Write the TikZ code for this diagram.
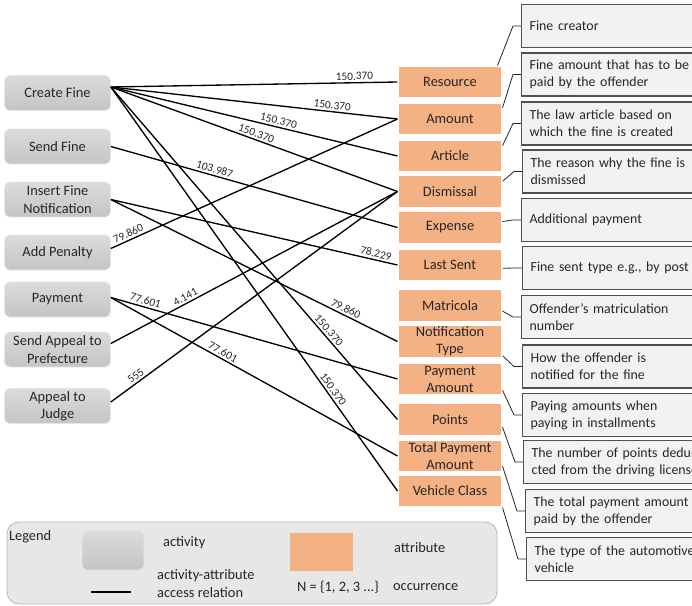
\documentclass[tikz,border=0pt]{standalone}
\usepackage{fontspec}
\setmainfont{Carlito}
\usetikzlibrary{calc}
\definecolor{atributo}{RGB}{244,177,131}
\definecolor{fondodesc}{RGB}{242,242,242}
\definecolor{bordedesc}{RGB}{80,80,80}
\definecolor{fondoley}{RGB}{231,231,231}
\definecolor{texto}{RGB}{38,38,38}

\begin{document}
\begin{tikzpicture}[x=0.75pt,y=-0.75pt,line width=1pt,
  font=\fontsize{10.8}{13}\selectfont,text=texto,
  actividad/.style={draw=gray!20,line width=0.5pt,rounded corners=4pt,top color=gray!28,bottom color=gray!46,
    minimum width=79.5pt,minimum height=26.25pt,align=center,inner sep=1pt},
  atrib/.style={fill=atributo,draw=white,line width=0.8pt,minimum width=78pt,minimum height=24pt,
    align=center,inner sep=1pt,font=\fontsize{10.8}{12.8}\selectfont},
  desc/.style={fill=fondodesc,draw=bordedesc,line width=1pt,anchor=west,minimum height=32.25pt,
    text width=116pt,inner xsep=6pt,align=left,font=\fontsize{10.4}{12.8}\selectfont},
  ocurr/.style={font=\fontsize{8.5}{9}\selectfont,sloped,above,inner sep=1.5pt,pos=#1},
  llamada/.style={line width=0.6pt,draw=black!85}]
  \useasboundingbox (0,0) rectangle (692,606);
  % actividades
  \foreach \n/\y/\t in {cf/93/Create Fine,sf/146.5/Send Fine,ifn/199.5/{Insert Fine\\Notification},
    ap/252.5/Add Penalty,pay/299.5/Payment,sap/349.5/{Send Appeal to\\Prefecture},aj/406/{Appeal to\\Judge}}
    \node[actividad] (\n) at (57.5,\y) {\t};
  % atributos
  \foreach \n/\y/\t in {res/82/Resource,amt/119/Amount,art/156/Article,dism/191.5/Dismissal,
    expn/227.5/Expense,last/265/Last Sent,matr/305.5/Matricola,ntyp/341.5/{Notification\\Type},
    pamt/379/{Payment\\Amount},pts/419.5/Points,tpamt/456/{Total Payment\\Amount},vcls/491/Vehicle Class}
    \node[atrib] (\n) at (450,\y) {\t};
  % descripciones
  \foreach \n/\x/\y/\t in {d1/521/26/Fine creator,
    d2/521/74.5/{\mbox{Fine amount that has to be}\\paid by the offender},
    d3/521/123.5/{The law article based on\\which the fine is created},
    d4/522/171.5/{\mbox{The reason why the fine is}\\dismissed},
    d5/521/220/Additional payment,
    d6/522/268/{\mbox{Fine sent type e.g., by post}},
    d7/521/317/{Offender's matriculation\\number},
    d8/522/366.5/{How the offender is\\notified for the fine},
    d9/522/415/{Paying amounts when\\paying in installments},
    d10/523/462/{\mbox{The number of points dedu-}\\\mbox{cted from the driving license}},
    d11/525/511/{\mbox{The total payment amount}\\paid by the offender},
    d12/526/559/{\mbox{The type of the automotive}\\vehicle}}
    \node[desc] (\n) at (\x,\y) {\t};
  % llamadas
  \draw[llamada] ([xshift=-3.75pt]res.north east) -- ([xshift=-6pt]d1.west) -- (d1.west);
  \foreach \a/\f/\d in {amt/0.16/d2,art/0.19/d3,dism/0.19/d4,expn/0.32/d5,last/0.6/d6,matr/0.67/d7,
    ntyp/0.93/d8,pamt/0.84/d9,pts/0.73/d10,tpamt/0.81/d11,vcls/1/d12}
    \draw[llamada] ($(\a.north east)!\f!(\a.south east)$) -- ([xshift=-6pt]\d.west) -- (\d.west);
  % relaciones actividad-atributo
  \foreach \a/\s/\b/\v/\p in {cf/4.5pt/res/150.370/0.85,cf/4.5pt/amt/150.370/0.77,cf/4.5pt/art/150.370/0.58,
    cf/4.5pt/dism/150.370/0.5,cf/4.5pt/pts/150.370/0.744,cf/4.5pt/vcls/150.370/0.757,
    sf/0pt/expn/103.987/0.356,ifn/0pt/last/78.229/0.92,ifn/0pt/ntyp/79.860/0.81,
    ap/3pt/amt/79.860/0.07,pay/1.5pt/pamt/77.601/0.115,pay/1.5pt/tpamt/77.601/0.38,
    sap/4.5pt/dism/4.141/0.27,aj/3pt/dism/555/0.1}
    \draw ([yshift=\s]\a.east) -- (\b.west) node[ocurr=\p]{\v};
  % leyenda
  \draw[fill=fondoley,draw=gray!55,line width=0.6pt,rounded corners=9pt] (7,522) rectangle (497,604);
  \node[anchor=west] (leg) at (4,537) {Legend};
  \node[actividad,minimum width=46.5pt,minimum height=29.25pt] (lact) at (113,550.5) {};
  \node[anchor=west] (tact) at (158,543) {activity};
  \coordinate (l1) at (91,592);
  \coordinate (l2) at (131,592);
  \draw[line width=1.5pt] (l1) -- (l2);
  \node[anchor=west,align=left] (trel) at (152,583.5) {activity-attribute\\access relation};
  \node[atrib,draw=none,minimum width=47.25pt,minimum height=28.5pt] (latr) at (321.5,552) {};
  \node[anchor=west] (tatr) at (389,548) {attribute};
  \node[anchor=west] (nocc) at (292,587) {N = \{1, 2, 3 ...\}};
  \node[anchor=west] (tocc) at (388,587) {occurrence};
\end{tikzpicture}
\end{document}
